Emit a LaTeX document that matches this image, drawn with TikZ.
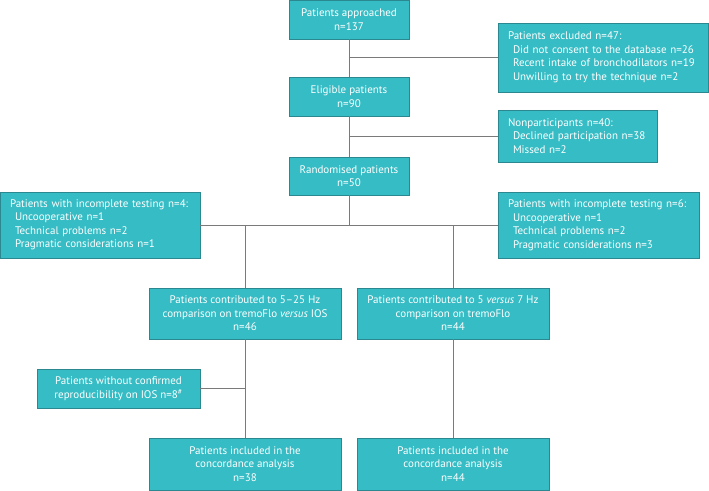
\documentclass[tikz,border=0pt]{standalone}
\usepackage{fontspec}
\setmainfont{PT Sans}
\definecolor{boxfill}{HTML}{35BCC4}
\definecolor{boxedge}{HTML}{2B8790}
\definecolor{linegray}{HTML}{7A7A7A}
\tikzset{
  flowbox/.style={draw=boxedge, line width=0.8pt, fill=boxfill, text=white, inner sep=0pt,
    align=center, font=\fontsize{11}{13.5}\selectfont},
  listbox/.style={flowbox, align=left, inner xsep=10pt},
  conn/.style={draw=linegray, line width=0.9pt}
}
\newcommand{\ind}{\hspace*{5pt}}
\begin{document}
\begin{tikzpicture}[x=1pt,y=-1pt]
\useasboundingbox (0,0) rectangle (709,490);
% main column
\node[flowbox, minimum width=120pt, minimum height=39pt] (appr) at (349,19.5) {Patients approached\\n=137};
\node[listbox, text width=190pt, minimum height=69pt] (excl) at (603,57.5) {Patients excluded n=47:\\\ind Did not consent to the database n=26\\\ind Recent intake of bronchodilators n=19\\\ind Unwilling to try the technique n=2};
\node[flowbox, minimum width=120pt, minimum height=39pt] (elig) at (349,96.5) {Eligible patients\\n=90};
\node[listbox, text width=139pt, minimum height=52pt] (nonp) at (577.5,136) {Nonparticipants n=40:\\\ind Declined participation n=38\\\ind Missed n=2};
\node[flowbox, minimum width=120pt, minimum height=38pt] (rand) at (349,176) {Randomised patients\\n=50};
\node[listbox, text width=180pt, minimum height=66pt] (incL) at (100,225) {Patients with incomplete testing n=4:\\\ind Uncooperative n=1\\\ind Technical problems n=2\\\ind Pragmatic considerations n=1};
\node[listbox, text width=181pt, minimum height=66pt] (incR) at (598.5,225) {Patients with incomplete testing n=6:\\\ind Uncooperative n=1\\\ind Technical problems n=2\\\ind Pragmatic considerations n=3};
\node[flowbox, minimum width=192pt, minimum height=51pt] (cmpA) at (245,313.5) {Patients contributed to 5--25 Hz\\comparison on tremoFlo \textit{versus} IOS\\n=46};
\node[flowbox, minimum width=192pt, minimum height=51pt] (cmpB) at (453,313.5) {Patients contributed to 5 \textit{versus} 7 Hz\\comparison on tremoFlo\\n=44};
\node[flowbox, minimum width=163pt, minimum height=39pt] (repro) at (118.5,388.5) {Patients without confirmed\\reproducibility on IOS n=8\textsuperscript{\#}};
\node[flowbox, minimum width=192pt, minimum height=52pt] (finA) at (245,464) {Patients included in the\\concordance analysis\\n=38};
\node[flowbox, minimum width=192pt, minimum height=52pt] (finB) at (453,464) {Patients included in the\\concordance analysis\\n=44};
% connectors
\draw[conn] (appr.south) -- (elig.north);
\draw[conn] (appr.south |- excl.west) -- (excl.west);
\draw[conn] (elig.south) -- (rand.north);
\draw[conn] (elig.south |- nonp.west) -- (nonp.west);
\draw[conn] (incL.east) -- (incR.west);
\draw[conn] (rand.south) -- (rand.south |- incL.east);
\draw[conn] (cmpA.north) -- (cmpA.north |- incL.east);
\draw[conn] (cmpB.north) -- (cmpB.north |- incL.east);
\draw[conn] (cmpA.south) -- (finA.north);
\draw[conn] (repro.east) -- (cmpA.south |- repro.east);
\draw[conn] (cmpB.south) -- (finB.north);
\end{tikzpicture}
\end{document}
